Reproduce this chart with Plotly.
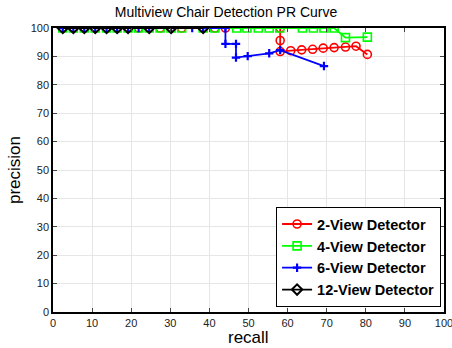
import plotly.graph_objects as go

title = "Multiview Chair Detection PR Curve"
x_title = "recall"
y_title = "precision"

r2 = [2.5, 5.2, 8.0, 10.8, 13.7, 16.4, 19.2, 21.9, 24.6, 27.4, 30.2, 32.9, 38.4, 41.4, 44.1, 58.1, 58.1, 58.1, 60.8, 63.6, 66.4, 69.1, 71.9, 74.8, 77.5, 80.4]
p2 = [100, 100, 100, 100, 100, 100, 100, 100, 100, 100, 100, 100, 100, 100, 100, 100, 95.6, 91.7, 92.0, 92.3, 92.5, 92.9, 93.1, 93.3, 93.6, 90.7]

r4 = [2.5, 5.2, 8.0, 10.8, 13.7, 16.4, 19.2, 21.9, 24.6, 27.4, 30.2, 32.9, 38.4, 41.4, 47.0, 49.6, 52.5, 55.3, 58.0, 63.8, 66.6, 69.3, 71.9, 74.8, 80.4]
p4 = [100, 100, 100, 100, 100, 100, 100, 100, 100, 100, 100, 100, 100, 100, 100, 100, 100, 100, 100, 100, 100, 100, 100, 96.6, 96.8]

r6 = [2.5, 5.2, 8.0, 10.8, 13.7, 16.4, 19.2, 21.9, 24.6, 30.2, 35.6, 38.4, 44.1, 44.1, 46.8, 46.8, 49.8, 55.3, 58.1, 69.3]
p6 = [100, 100, 100, 100, 100, 100, 100, 100, 100, 100, 100, 100, 100, 94.4, 94.4, 89.6, 90.1, 91.1, 92.2, 86.6]

r12 = [2.5, 5.2, 8.0, 10.8, 13.7, 16.4, 19.2, 24.6, 30.2, 38.4]
p12 = [100, 100, 100, 100, 100, 100, 100, 100, 100, 100]

names = ["2-View Detector", "4-View Detector", "6-View Detector", "12-View Detector"]
xticks = list(range(0, 101, 10))
yticks = list(range(0, 101, 10))

fig = go.Figure()
fig.add_trace(go.Scatter(x=r2, y=p2, name=names[0], mode="lines+markers",
                         line=dict(color="#ff0000", width=1.8),
                         marker=dict(symbol="circle-open", size=8, color="#ff0000", line=dict(width=1.6))))
fig.add_trace(go.Scatter(x=r4, y=p4, name=names[1], mode="lines+markers",
                         line=dict(color="#00ff00", width=1.8),
                         marker=dict(symbol="square-open", size=8, color="#00ff00", line=dict(width=1.6))))
fig.add_trace(go.Scatter(x=r6, y=p6, name=names[2], mode="lines+markers",
                         line=dict(color="#0000ff", width=1.8),
                         marker=dict(symbol="cross-thin-open", size=6, color="#0000ff", line=dict(width=2.2, color="#0000ff"))))
fig.add_trace(go.Scatter(x=r12, y=p12, name=names[3], mode="lines+markers",
                         line=dict(color="#000000", width=1.8),
                         marker=dict(symbol="diamond-open", size=8, color="#000000", line=dict(width=2))))

fig.update_layout(
    width=452, height=348,
    margin=dict(l=53, r=8, t=28, b=36, autoexpand=False),
    paper_bgcolor="white", plot_bgcolor="white",
    font=dict(family="Liberation Sans, Arial", color="#000000"),
    title=dict(text=title, x=0.5, xanchor="center", y=1 - 12 / 348, yanchor="middle",
               font=dict(size=14, color="#000000")),
    showlegend=True,
    legend=dict(x=0.992, y=0.018, xanchor="right", yanchor="bottom",
                bgcolor="white", bordercolor="black", borderwidth=1.2,
                font=dict(size=14.5, family="Liberation Sans, Arial", weight="bold"),
                tracegroupgap=0, itemwidth=30),
    annotations=[dict(text=x_title, xref="paper", yref="paper", x=0.5, y=-0.089,
                      xanchor="center", yanchor="middle", showarrow=False,
                      font=dict(size=17, color="#000000"))],
)
fig.update_xaxes(range=[0, 100], tickvals=xticks, ticks="inside", ticklen=4,
                 showgrid=True, gridcolor="#e6e6e6", gridwidth=1,
                 showline=True, linecolor="black", linewidth=1.5, mirror="ticks",
                 zeroline=False, tickfont=dict(size=11, color="#222"),
                 ticklabeloverflow="allow")
fig.update_yaxes(range=[0, 100], tickvals=yticks, ticks="inside", ticklen=4,
                 showgrid=True, gridcolor="#e6e6e6", gridwidth=1,
                 showline=True, linecolor="black", linewidth=1.5, mirror="ticks",
                 zeroline=False, tickfont=dict(size=11, color="#222"),
                 ticklabeloverflow="allow",
                 title=dict(text=y_title, font=dict(size=17), standoff=6))

fig.write_html("out.html")
